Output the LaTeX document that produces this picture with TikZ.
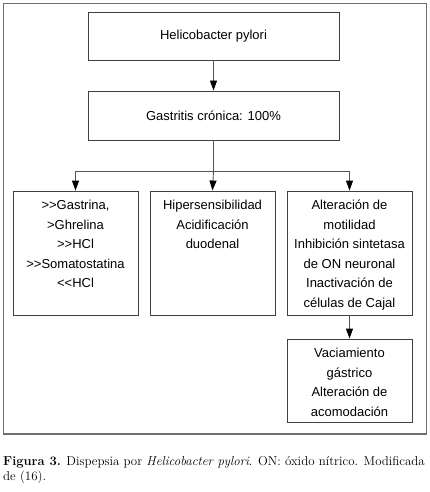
\documentclass[tikz,border=0pt]{standalone}
\usepackage{fontspec}
\setsansfont{Liberation Sans}
\usetikzlibrary{arrows.meta}
\definecolor{boxline}{HTML}{404040}
\definecolor{frameline}{HTML}{6E6E6E}
\definecolor{arrline}{HTML}{555555}
\begin{document}
\begin{tikzpicture}[x=1pt,y=1pt,
  box/.style={draw=boxline,line width=0.9pt,inner sep=0pt,align=center,
    font=\sffamily\fontsize{13}{19.5}\selectfont},
  arr/.style={draw=arrline,line width=0.9pt,-{Triangle[length=10pt,width=7pt,fill=black,color=black]}},
  lin/.style={draw=arrline,line width=0.9pt}]
\useasboundingbox (0,0) rectangle (430,-492);
\draw[frameline,line width=1.5pt] (3.5,-3.5) rectangle (426.5,-434);
\node[box,minimum width=251pt,minimum height=48pt] (hp) at (213.5,-36) {Helicobacter pylori};
\node[box,minimum width=251pt,minimum height=49pt] (gc) at (213.5,-115.5) {Gastritis crónica: 100\%};
\node[box,minimum width=125pt,minimum height=124pt] (a) at (75.5,-253)
  {\parbox[c][114pt][t]{121pt}{\centering\strut{}>{}>Gastrina,\\ >Ghrelina\\ >{}>HCl\\ >{}>Somatostatina\\ <{}<HCl}};
\node[box,minimum width=125pt,minimum height=124pt] (b) at (212.5,-253)
  {\parbox[c][114pt][t]{121pt}{\centering\strut{}Hipersensibilidad\\ Acidificación\\ duodenal}};
\node[box,minimum width=125pt,minimum height=124pt] (c) at (349.5,-253)
  {\parbox[c][114pt][t]{123pt}{\centering\strut{}Alteración de\\ motilidad\\ Inhibición sintetasa\\ de ON neuronal\\ Inactivación de\\ células de Cajal}};
\node[box,minimum width=125pt,minimum height=83pt] (d) at (349.5,-380.5)
  {\parbox[c][73pt][t]{121pt}{\centering\strut{}Vaciamiento\\ gástrico\\ Alteración de\\ acomodación}};
\coordinate (br) at (213.5,-171);
\draw[arr] (hp.south) -- (gc.north);
\draw[lin] (gc.south) -- (br);
\draw[lin] (a.north |- br) -- (c.north |- br);
\draw[arr] (a.north |- br) -- (a.north);
\draw[arr] (br) -- (b.north);
\draw[arr] (c.north |- br) -- (c.north);
\draw[arr] (c.south) -- (d.north);
\node[anchor=north west,inner sep=0pt,align=left,
  font=\fontsize{12.9}{15}\selectfont] (cap) at (3,-456)
  {\textbf{Figura 3.} Dispepsia por \textit{Helicobacter pylori}. ON: óxido nítrico. Modificada\\de (16).};
\end{tikzpicture}
\end{document}
